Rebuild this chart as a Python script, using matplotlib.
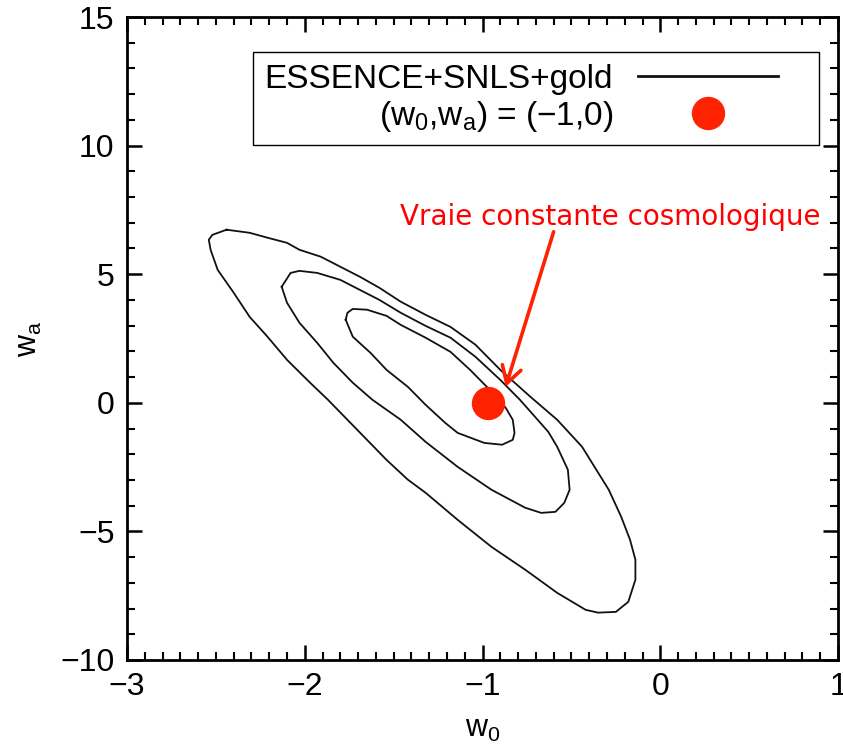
import matplotlib
matplotlib.use("Agg")
import matplotlib.pyplot as plt
from matplotlib.ticker import MultipleLocator

plt.rcParams["font.family"] = ["Liberation Sans", "DejaVu Sans"]
plt.rcParams["mathtext.fontset"] = "custom"
plt.rcParams["mathtext.rm"] = "Liberation Sans"
plt.rcParams["mathtext.it"] = "Liberation Sans:italic"

# Confidence contours in the (w0, wa) plane
outer_w0 = [-2.44, -2.31, -2.21, -2.10, -2.03, -1.91, -1.80, -1.69, -1.58, -1.46,
            -1.32, -1.18, -1.04, -0.90, -0.73, -0.58, -0.44, -0.37, -0.29, -0.22,
            -0.17, -0.14, -0.14, -0.18, -0.25, -0.35, -0.42, -0.58, -0.76, -0.95,
            -1.14, -1.32, -1.42, -1.54, -1.65, -1.76, -1.87, -1.97, -2.10, -2.21,
            -2.31, -2.40, -2.49, -2.53, -2.54, -2.52, -2.44]
outer_wa = [6.73, 6.61, 6.42, 6.22, 5.95, 5.68, 5.29, 4.90, 4.47, 3.93,
            3.42, 2.95, 2.26, 1.28, 0.23, -0.66, -1.71, -2.49, -3.38, -4.43,
            -5.33, -6.10, -6.88, -7.74, -8.13, -8.16, -8.05, -7.39, -6.49, -5.60,
            -4.55, -3.50, -2.99, -2.22, -1.44, -0.66, 0.12, 0.78, 1.67, 2.57,
            3.34, 4.28, 5.17, 5.95, 6.34, 6.53, 6.73]

middle_w0 = [-2.13, -2.08, -2.03, -1.93, -1.80, -1.69, -1.58, -1.46, -1.32, -1.18,
             -1.04, -0.90, -0.79, -0.69, -0.63, -0.58, -0.52, -0.51, -0.54, -0.59,
             -0.67, -0.76, -0.95, -1.14, -1.32, -1.46, -1.62, -1.73, -1.84, -1.93,
             -2.03, -2.10, -2.13]
middle_wa = [4.51, 5.05, 5.13, 5.05, 4.78, 4.39, 4.00, 3.50, 2.99, 2.53,
             1.79, 0.89, 0.12, -0.66, -1.13, -1.71, -2.60, -3.38, -3.89, -4.24,
             -4.28, -4.08, -3.38, -2.49, -1.52, -0.66, 0.12, 0.78, 1.56, 2.33,
             3.11, 3.89, 4.51]

inner_w0 = [-1.77, -1.76, -1.73, -1.65, -1.54, -1.46, -1.32, -1.18, -1.07, -0.96,
            -0.87, -0.83, -0.82, -0.83, -0.89, -0.99, -1.14, -1.21, -1.32, -1.42,
            -1.54, -1.63, -1.73, -1.77]
inner_wa = [3.23, 3.50, 3.65, 3.62, 3.38, 3.03, 2.53, 1.98, 1.28, 0.51,
            -0.19, -0.66, -1.17, -1.44, -1.63, -1.56, -1.17, -0.78, -0.08, 0.62,
            1.28, 1.94, 2.57, 3.23]

# Cosmological constant point
lambda_w0 = [-0.97]
lambda_wa = [0.0]

# Annotation arrow (start, tip) and label position
arrow_start = (-0.60, 6.65)
arrow_tip = (-0.87, 0.62)
note_pos = (-0.28, 6.92)
note_text = "Vraie constante cosmologique"

series_label = "ESSENCE+SNLS+gold"
point_label = "(w$_{\\rm 0}$,w$_{\\rm a}$) = (\u22121,0)"

red = "#ff2200"

fig = plt.figure(figsize=(8.43, 7.47), dpi=100)
ax = fig.add_axes([0.1507, 0.1165, 0.8434, 0.8607])

ax.plot(outer_w0, outer_wa, color="#111111", lw=1.3, label=series_label)
ax.plot(middle_w0, middle_wa, color="#111111", lw=1.3)
ax.plot(inner_w0, inner_wa, color="#111111", lw=1.3)
ax.plot(lambda_w0, lambda_wa, "o", color=red, markersize=23, label=point_label, zorder=5)

ax.annotate("", xy=arrow_tip, xytext=arrow_start,
            arrowprops=dict(arrowstyle="->,head_length=0.6,head_width=0.35",
                            color=red, lw=2.6, shrinkA=0, shrinkB=0,
                            mutation_scale=20), zorder=6)
ax.text(note_pos[0], note_pos[1], note_text, color="#ff0000", fontsize=20,
        family="DejaVu Sans", ha="center", va="baseline")

ax.set_xlim(-3, 1)
ax.set_ylim(-10, 15)
ax.xaxis.set_minor_locator(MultipleLocator(0.1))
ax.yaxis.set_minor_locator(MultipleLocator(1))
ax.tick_params(which="both", direction="in", top=True, right=True, labelsize=23)
ax.tick_params(which="major", length=11, width=1.8, pad=9)
ax.tick_params(which="minor", length=5.5, width=1.5)
ax.set_xticks([-3, -2, -1, 0, 1])
ax.set_xticklabels(["\u22123", "\u22122", "\u22121", "0", "1"])
ax.set_yticks([-10, -5, 0, 5, 10, 15])
ax.set_yticklabels(["\u221210", "\u22125", "0", "5", "10", "15"])
for s in ax.spines.values():
    s.set_linewidth(2.0)

ax.set_xlabel("w$_{\\rm 0}$", fontsize=22, labelpad=8)
ax.set_ylabel("w$_{\\rm a}$", fontsize=22, labelpad=12)

# Legend: expanded box, entries right-aligned with handles on the right
leg = ax.legend(loc="upper left", bbox_to_anchor=(0.1772, 0.80, 0.7961, 0.1456),
                mode="expand", borderaxespad=0, fontsize=24, markerfirst=False,
                handlelength=4.2, handletextpad=0.75, fancybox=False, framealpha=1,
                edgecolor="black", borderpad=0.35, labelspacing=0.12, numpoints=1)
leg.get_frame().set_linewidth(1.0)
leg.get_lines()[0].set_linewidth(2.0)

plt.savefig("out.png", dpi=100)
